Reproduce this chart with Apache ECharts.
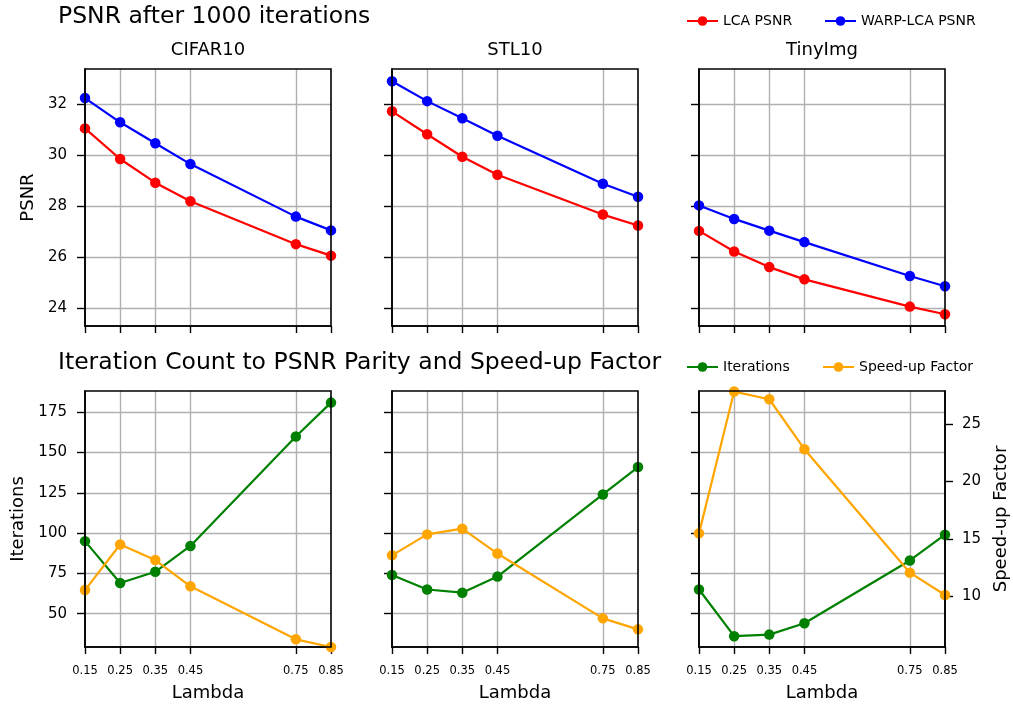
<!DOCTYPE html>
<html><head><meta charset="utf-8">
<script src="https://cdn.jsdelivr.net/npm/echarts@6/dist/echarts.min.js"></script>
<style>html,body{margin:0;padding:0;background:#fff}#c{width:1013px;height:709px}</style>
</head><body><div id="c"></div>
<script>
// ---- data ----
const lambdas = [0.15, 0.25, 0.35, 0.45, 0.75, 0.85];
const datasets = ['CIFAR10', 'STL10', 'TinyImg'];
const psnrTicks = [24, 26, 28, 30, 32];
const iterTicks = [50, 75, 100, 125, 150, 175];
const speedTicks = [10, 15, 20, 25];

const lcaPsnrCifar10  = [31.04, 29.84, 28.91, 28.18, 26.50, 26.05];
const warpPsnrCifar10 = [32.23, 31.28, 30.46, 29.64, 27.58, 27.04];
const lcaPsnrStl10    = [31.71, 30.81, 29.93, 29.22, 27.66, 27.23];
const warpPsnrStl10   = [32.89, 32.11, 31.44, 30.75, 28.87, 28.36];
const lcaPsnrTiny     = [27.02, 26.21, 25.60, 25.12, 24.05, 23.75];
const warpPsnrTiny    = [28.02, 27.49, 27.03, 26.58, 25.25, 24.85];

const itersCifar10 = [95, 69, 76, 92, 160, 181];
const speedCifar10 = [10.52, 14.50, 13.14, 10.85, 6.22, 5.55];
const itersStl10   = [74, 65, 63, 73, 124, 141];
const speedStl10   = [13.55, 15.38, 15.88, 13.71, 8.05, 7.09];
const itersTiny    = [65, 36, 37, 44, 83, 99];
const speedTiny    = [15.47, 27.85, 27.18, 22.82, 12.04, 10.09];

const lcaPsnr  = [lcaPsnrCifar10, lcaPsnrStl10, lcaPsnrTiny];
const warpPsnr = [warpPsnrCifar10, warpPsnrStl10, warpPsnrTiny];
const iters    = [itersCifar10, itersStl10, itersTiny];
const speeds   = [speedCifar10, speedStl10, speedTiny];

// axis limits
const psnrRange  = [23.29, 33.37];
const iterRange  = [29.3, 188.2];
const speedRange = [5.55, 27.9];

// ---- layout / style ----
const FONT = 'DejaVu Sans';
const colLeft = [85, 392, 699], colW = 246;
const rowTop = [69, 391], rowH = [257, 256];
const gridColor = '#b0b0b0';
const pts = arr => lambdas.map((x, k) => [x, arr[k]]);

const grid = [], xAxis = [], yAxis = [], series = [];
for (let r = 0; r < 2; r++) {
  for (let c = 0; c < 3; c++) {
    const gi = r * 3 + c;
    grid.push({left: colLeft[c], top: rowTop[r], width: colW, height: rowH[r],
      show: true, borderColor: '#000', borderWidth: 1.6, backgroundColor: 'transparent', z: 10});
    xAxis.push({
      type: 'value', gridIndex: gi, min: lambdas[0], max: lambdas[lambdas.length - 1],
      axisLine: {show: true, lineStyle: {color: '#000', width: 1.6}},
      axisTick: {show: true, customValues: lambdas, length: 7, lineStyle: {color: '#000', width: 1.4}},
      axisLabel: {show: r === 1, customValues: lambdas, formatter: v => v.toFixed(2),
        fontSize: 11.5, color: '#000', fontFamily: FONT, margin: 18},
      splitLine: {show: true, showMinLine: false, showMaxLine: false, lineStyle: {color: gridColor, width: 1.4}},
      name: r === 1 ? 'Lambda' : '', nameLocation: 'middle', nameGap: 37,
      nameTextStyle: {fontSize: 18, fontFamily: FONT, color: '#000'}
    });
    const ticks = r === 0 ? psnrTicks : iterTicks;
    const rng = r === 0 ? psnrRange : iterRange;
    yAxis.push({
      type: 'value', gridIndex: gi, min: rng[0], max: rng[1],
      axisLine: {show: true, lineStyle: {color: '#000', width: 1.6}},
      axisTick: {show: true, customValues: ticks, length: 8, lineStyle: {color: '#000', width: 1.4}},
      axisLabel: {show: c === 0, customValues: ticks, fontSize: 15, color: '#000', fontFamily: FONT, margin: 18},
      splitLine: {show: true, lineStyle: {color: gridColor, width: 1.4}},
      name: c === 0 ? (r === 0 ? 'PSNR' : 'Iterations') : '', nameLocation: 'middle',
      nameGap: r === 0 ? 48 : 58,
      nameTextStyle: {fontSize: 18, fontFamily: FONT, color: '#000'}
    });
  }
}
// right axes for bottom row (speed-up)
for (let c = 0; c < 3; c++) {
  yAxis.push({
    type: 'value', gridIndex: 3 + c, position: 'right', min: speedRange[0], max: speedRange[1],
    show: c === 2,
    axisLine: {show: true, lineStyle: {color: '#000', width: 1.6}},
    axisTick: {show: true, customValues: speedTicks, length: 8, lineStyle: {color: '#000', width: 1.4}},
    axisLabel: {show: true, customValues: speedTicks, fontSize: 15, color: '#000', fontFamily: FONT, margin: 17},
    splitLine: {show: false},
    name: c === 2 ? 'Speed-up Factor' : '', nameLocation: 'middle', nameGap: 47,
    nameTextStyle: {fontSize: 18, fontFamily: FONT, color: '#000'}
  });
}

function lineSeries(name, color, data, xi, yi) {
  return {type: 'line', name, data: pts(data), xAxisIndex: xi, yAxisIndex: yi,
    symbol: 'circle', symbolSize: 10.5, showSymbol: true, clip: true, animation: false,
    lineStyle: {color, width: 2.2}, itemStyle: {color}, emphasis: {disabled: true}};
}
for (let c = 0; c < 3; c++) {
  series.push(lineSeries('LCA PSNR', '#ff0000', lcaPsnr[c], c, c));
  series.push(lineSeries('WARP-LCA PSNR', '#0000ff', warpPsnr[c], c, c));
}
for (let c = 0; c < 3; c++) {
  series.push(lineSeries('Iterations', '#008000', iters[c], 3 + c, 3 + c));
}
for (let c = 0; c < 3; c++) {
  series.push(lineSeries('Speed-up Factor', '#ffa500', speeds[c], 3 + c, 6 + c));
}

const legendBase = {orient: 'horizontal', padding: 0, itemWidth: 31, itemHeight: 12,
  selectedMode: false, textStyle: {fontSize: 14, fontFamily: FONT, color: '#000'}};
const legend = [
  Object.assign({}, legendBase, {data: ['LCA PSNR'], left: 686, top: 14}),
  Object.assign({}, legendBase, {data: ['WARP-LCA PSNR'], left: 824, top: 14}),
  Object.assign({}, legendBase, {data: ['Iterations'], left: 686, top: 360}),
  Object.assign({}, legendBase, {data: ['Speed-up Factor'], left: 822, top: 360})
];

const graphic = [
  {type: 'text', x: 58, y: 17, style: {text: 'PSNR after 1000 iterations', fontSize: 23.5, fontFamily: FONT,
    fill: '#000', align: 'left', verticalAlign: 'middle'}},
  {type: 'text', x: 58, y: 363, style: {text: 'Iteration Count to PSNR Parity and Speed-up Factor', fontSize: 23.5,
    fontFamily: FONT, fill: '#000', align: 'left', verticalAlign: 'middle'}}
];
datasets.forEach((d, c) => {
  graphic.push({type: 'text', x: colLeft[c] + colW / 2, y: 50, style: {text: d, fontSize: 18, fontFamily: FONT,
    fill: '#000', align: 'center', verticalAlign: 'middle'}});
});

const chart = echarts.init(document.getElementById('c'), null, {renderer: 'canvas'});
chart.setOption({animation: false, backgroundColor: '#fff', grid, xAxis, yAxis, series, legend, graphic});
</script>
</body></html>
